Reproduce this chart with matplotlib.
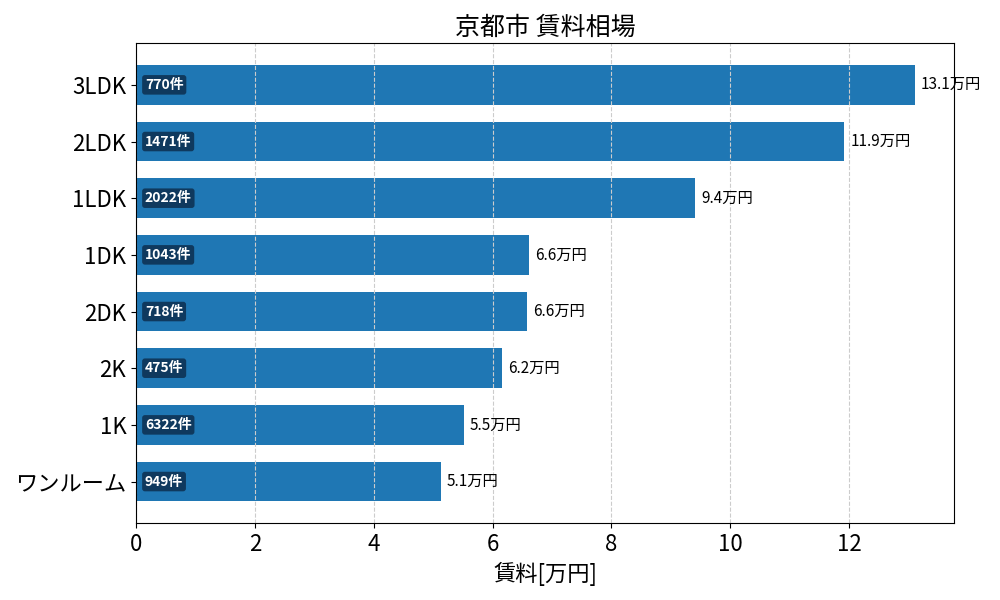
import matplotlib
matplotlib.use("Agg")
import matplotlib.pyplot as plt

plt.rcParams['font.family'] = ['Noto Sans CJK JP', 'DejaVu Sans']

# data (top to bottom as shown)
layouts = ['3LDK', '2LDK', '1LDK', '1DK', '2DK', '2K', '1K', 'ワンルーム']
rents = [13.11, 11.92, 9.41, 6.62, 6.58, 6.16, 5.52, 5.13]
counts = [770, 1471, 2022, 1043, 718, 475, 6322, 949]

# matplotlib barh draws bottom-up, so reverse
layouts_r = layouts[::-1]
rents_r = rents[::-1]
counts_r = counts[::-1]

fig, ax = plt.subplots(figsize=(10, 6), dpi=100)
ypos = range(len(layouts_r))
ax.barh(ypos, rents_r, height=0.7, color='#1f77b4')
ax.set_yticks(list(ypos))
ax.set_yticklabels(layouts_r, fontsize=16)
ax.tick_params(axis='x', labelsize=16)

ax.grid(axis='x', linestyle='--', color='#cccccc', linewidth=0.8)

for y, val, n in zip(ypos, rents_r, counts_r):
    ax.text(val + 0.1, y, f'{val:.1f}万円', va='center', ha='left', fontsize=11)
    ax.text(0.15, y, f'{n}件', va='center', ha='left', fontsize=10,
            fontweight='bold', color='white',
            bbox=dict(boxstyle='round,pad=0.2', facecolor='#0d2f4f', edgecolor='none', alpha=0.85))

ax.set_xlim(0, max(rents) * 1.05)
ax.set_xlabel('賃料[万円]', fontsize=16)
ax.set_title('京都市 賃料相場', fontsize=18)

fig.subplots_adjust(left=0.136, right=0.954, top=0.928, bottom=0.128)
fig.savefig('out.png', dpi=100)
